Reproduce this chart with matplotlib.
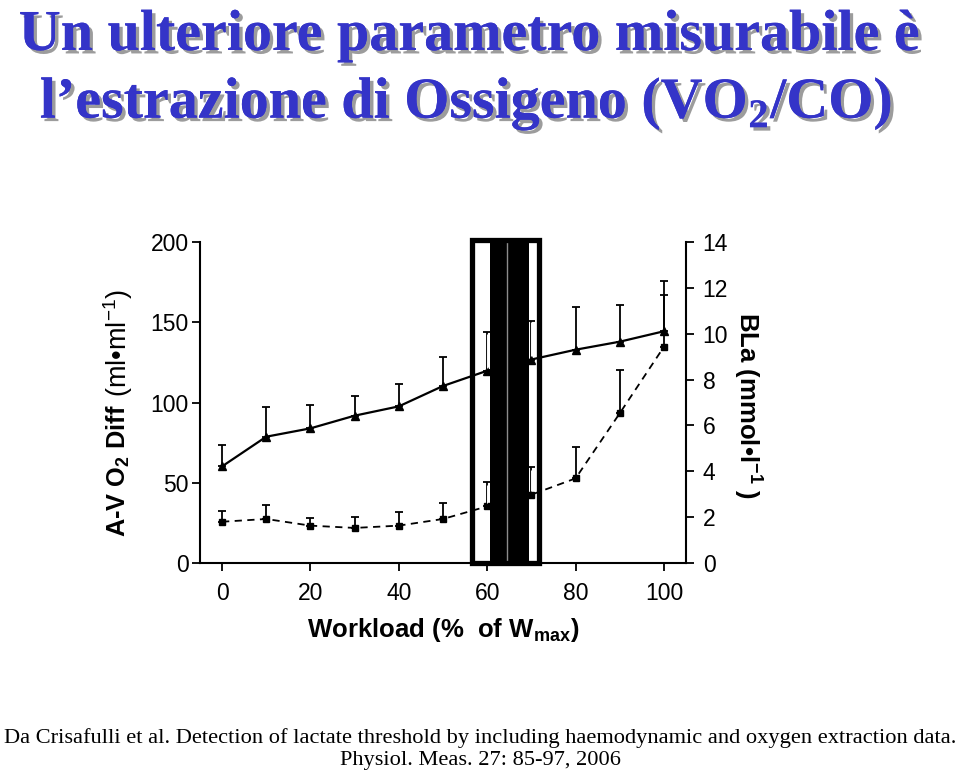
import numpy as np
import matplotlib.pyplot as plt
from matplotlib.patches import Rectangle
import matplotlib.patheffects as pe

plt.rcParams['font.family'] = ['Liberation Sans', 'DejaVu Sans']
plt.rcParams['mathtext.fontset'] = 'custom'
plt.rcParams['mathtext.rm'] = 'Liberation Sans'
plt.rcParams['mathtext.bf'] = 'Liberation Sans:bold'
plt.rcParams['mathtext.sf'] = 'Liberation Serif:bold'

# values (mean and upper SD)
workload = [0, 10, 20, 30, 40, 50, 60, 70, 80, 90, 100]
avo2_mean = [60.2, 78.7, 83.9, 91.8, 97.6, 110.3, 119.8, 126.8, 132.9, 137.9, 144.4]
avo2_sd = [13.3, 18.5, 14.5, 12.1, 14.1, 17.9, 24.2, 24.2, 26.4, 23.1, 31.1]
bla_mean = [1.80, 1.92, 1.63, 1.53, 1.63, 1.92, 2.47, 2.98, 3.69, 6.53, 9.43]
bla_sd = [0.45, 0.62, 0.33, 0.46, 0.58, 0.70, 1.05, 1.19, 1.38, 1.89, 2.27]
xticks = [0, 20, 40, 60, 80, 100]
left_ticks = [0, 50, 100, 150, 200]
right_ticks = [0, 2, 4, 6, 8, 10, 12, 14]

# lactate threshold band (workload %)
lt_outer = (56.5, 71.7)
lt_inner = (60.6, 69.5)
lt_mid = 64.4

n = len(workload)
fig = plt.figure(figsize=(9.6, 7.74), dpi=100)
ax = fig.add_axes([0.2083, 0.2726, 0.5063, 0.4147])
ax2 = ax.twinx()

# A-V O2 difference (left axis)
ax.errorbar(workload, avo2_mean, yerr=[np.zeros(n), avo2_sd], fmt='-', marker='^',
            color='k', lw=1.6, ms=6, capsize=3, elinewidth=1.3, capthick=1.3, zorder=3)

# blood lactate (right axis)
ax2.errorbar(workload, bla_mean, yerr=[np.zeros(n), bla_sd], fmt='--', marker='s',
             color='k', lw=1.3, ms=4, capsize=3, elinewidth=1.3, capthick=1.3,
             dashes=(4, 3))

# hollow look of the bars next to the band
for i in (6, 7):
    ax.vlines(workload[i], avo2_mean[i] + 2, avo2_mean[i] + avo2_sd[i] - 1, color='w', lw=0.7, zorder=4)
    ax2.vlines(workload[i], bla_mean[i] + 0.15, bla_mean[i] + bla_sd[i] - 0.1, color='w', lw=0.7, zorder=4)

# threshold band
ax.add_patch(Rectangle((lt_inner[0], 0), lt_inner[1] - lt_inner[0], 200,
                       facecolor='k', edgecolor='none', zorder=5))
ax.plot([lt_mid, lt_mid], [0, 200], color='0.55', lw=1, zorder=6)
ax.add_patch(Rectangle((lt_outer[0], 0), lt_outer[1] - lt_outer[0], 201,
                       facecolor='none', edgecolor='k', lw=3.8, zorder=6, clip_on=False))

ax.set_xlim(-5, 105)
ax.set_ylim(0, 200)
ax2.set_ylim(0, 14)
ax.set_xticks(xticks)
ax.set_yticks(left_ticks)
ax2.set_yticks(right_ticks)

for s in ['top', 'right']:
    ax.spines[s].set_visible(False)
for s in ['top', 'left', 'bottom']:
    ax2.spines[s].set_visible(False)
for s in ['left', 'bottom']:
    ax.spines[s].set_linewidth(1.5)
ax2.spines['right'].set_linewidth(1.5)

ax.tick_params(axis='both', direction='out', length=6, width=1.3, labelsize=16.5)
ax.tick_params(axis='y', pad=2)
ax.tick_params(axis='x', pad=8)
ax2.tick_params(axis='y', direction='out', length=6, width=1.3, labelsize=16.5, pad=6)

ax.set_xlabel(r'Workload (%  of W$_{\mathbf{max}}$)', fontsize=18.5, fontweight='bold')
ax.xaxis.set_label_coords(0.5, -0.165)

# left label: bold part + regular units
t1 = fig.text(118 / 960, 1 - 537 / 774, r'A-V O$_{\mathbf{2}}$ Diff', rotation=90,
              ha='center', va='bottom', fontsize=18.3, fontweight='bold')
ax.annotate('(ml•ml$^{-1}$)', xy=(0.5, 1), xycoords=t1, xytext=(0, 5),
            textcoords='offset points', rotation=90, ha='center', va='bottom', fontsize=19.5)

fig.text(748 / 960, 1 - 406 / 774, r'BLa (mmol•l$^{\mathbf{-1}}$ )', rotation=-90,
         ha='center', va='center', fontsize=18.5, fontweight='bold')

# title
shadow = [pe.withSimplePatchShadow(offset=(2.5, -2.5), shadow_rgbFace='0.45', alpha=0.7), pe.Normal()]
fig.text(0.488, 1 - 50 / 774, 'Un ulteriore parametro misurabile è', ha='center', va='baseline',
         fontsize=41.8, fontweight='bold', family='Liberation Serif', color='#3434c8',
         path_effects=shadow)
fig.text(0.485, 1 - 118 / 774, r'l’estrazione di Ossigeno (VO$_{\mathsf{2}}$/CO)', ha='center',
         va='baseline', fontsize=41.8, fontweight='bold', family='Liberation Serif', color='#3434c8',
         path_effects=shadow)

# reference
fig.text(0.5, 1 - 738 / 774, 'Da Crisafulli et al. Detection of lactate threshold by including haemodynamic and oxygen extraction data.',
         ha='center', va='center', fontsize=16.1, family='Liberation Serif')
fig.text(0.5, 1 - 761 / 774, 'Physiol. Meas. 27: 85-97, 2006',
         ha='center', va='center', fontsize=16.1, family='Liberation Serif')

fig.savefig('out.png', dpi=100)
